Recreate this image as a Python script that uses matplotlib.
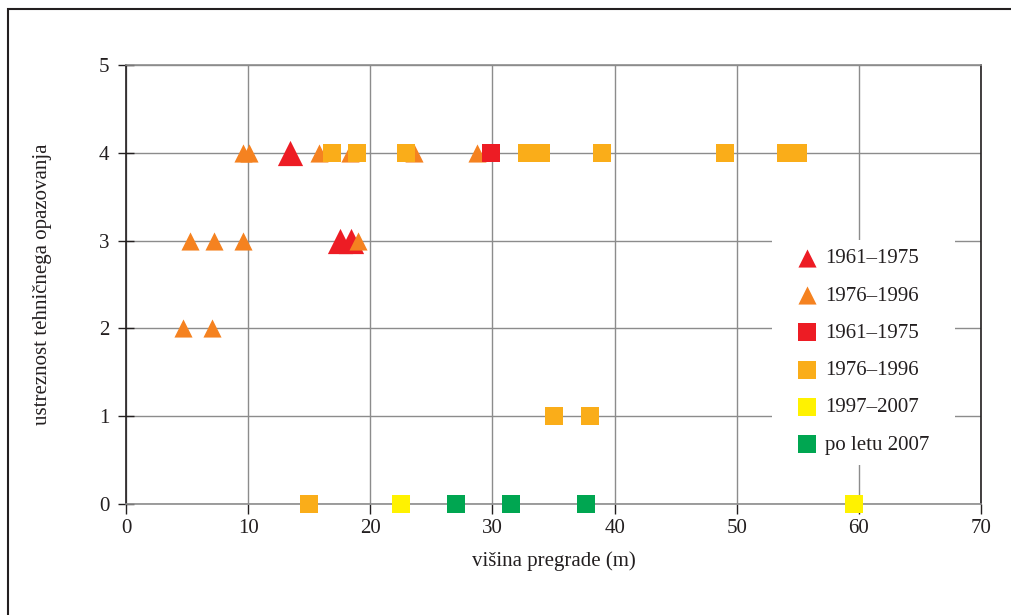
import matplotlib
matplotlib.use("Agg")
import matplotlib.pyplot as plt
from matplotlib.patches import Rectangle

plt.rcParams['font.family'] = ['Liberation Serif', 'DejaVu Serif']

# Data
tri_red_x = [13.4, 17.5, 18.4]
tri_red_y = [4, 3, 3]
tri_orange_x = [9.6, 10.1, 15.8, 18.3, 23.6, 28.7, 5.2, 7.2, 9.6, 19.0, 4.7, 7.0]
tri_orange_y = [4, 4, 4, 4, 4, 4, 3, 3, 3, 3, 2, 2]
sq_red_x = [29.9]
sq_red_y = [4]
sq_orange_x = [16.9, 18.9, 22.9, 32.8, 34.0, 39.0, 49.0, 54.0, 55.0, 35.0, 38.0, 15.0]
sq_orange_y = [4, 4, 4, 4, 4, 4, 4, 4, 4, 1, 1, 0]
sq_yellow_x = [22.5, 59.6]
sq_yellow_y = [0, 0]
sq_green_x = [27.0, 31.5, 37.7]
sq_green_y = [0, 0, 0]

labels = ['1961–1975', '1976–1996', '1961–1975', '1976–1996', '1997–2007', 'po letu 2007']
xticks = [0, 10, 20, 30, 40, 50, 60, 70]
yticks = [0, 1, 2, 3, 4, 5]

C_RED = '#ED1C24'
C_ORTRI = '#F58220'
C_ORSQ = '#FAAD19'
C_YEL = '#FFF200'
C_GRN = '#00A651'
TXT = '#231F20'
FS = 15

fig = plt.figure(figsize=(10.11, 6.15), dpi=100)
ax = fig.add_axes([126/1011, 1-504/615, (981-126)/1011, (504-65)/615])

ax.scatter(tri_red_x, tri_red_y, marker='^', s=330, color=C_RED, linewidths=0, label=labels[0], zorder=3, clip_on=False)
ax.scatter(tri_orange_x, tri_orange_y, marker='^', s=170, color=C_ORTRI, linewidths=0, label=labels[1], zorder=3, clip_on=False)
ax.scatter(sq_red_x, sq_red_y, marker='s', s=170, color=C_RED, linewidths=0, label=labels[2], zorder=3, clip_on=False)
ax.scatter(sq_orange_x, sq_orange_y, marker='s', s=170, color=C_ORSQ, linewidths=0, label=labels[3], zorder=3, clip_on=False)
ax.scatter(sq_yellow_x, sq_yellow_y, marker='s', s=170, color=C_YEL, linewidths=0, label=labels[4], zorder=3, clip_on=False)
ax.scatter(sq_green_x, sq_green_y, marker='s', s=170, color=C_GRN, linewidths=0, label=labels[5], zorder=3, clip_on=False)

ax.set_xlim(0, 70)
ax.set_ylim(0, 5)
ax.set_xticks(xticks)
ax.set_yticks(yticks)
ax.tick_params(axis='both', labelsize=FS, colors=TXT)
ax.tick_params(axis='x', direction='out', length=7, width=1)
ax.tick_params(axis='y', direction='inout', length=12, width=1, pad=6)
ax.grid(True, color='#8C8C8C', linewidth=1)
ax.set_axisbelow(True)
for s in ['left', 'right']:
    ax.spines[s].set_color(TXT)
    ax.spines[s].set_linewidth(1.2)
for s in ['top', 'bottom']:
    ax.spines[s].set_color('#8C8C8C')
    ax.spines[s].set_linewidth(1.2)

ax.set_xlabel('višina pregrade (m)', fontsize=FS, color=TXT, labelpad=10)
ax.set_ylabel('ustreznost tehničnega opazovanja', fontsize=FS, color=TXT, labelpad=34)

# white area behind legend (covers grid)
ax.add_patch(Rectangle((772/1011, 1-465/615), (955-772)/1011, (465-240)/615, transform=fig.transFigure,
                       facecolor='white', edgecolor='none', zorder=1.5))

leg = ax.legend(loc='upper left', bbox_to_anchor=(765/1011, 1-230/615), bbox_transform=fig.transFigure,
                fontsize=FS, frameon=False,
                labelspacing=0.85, handlelength=2.2, handletextpad=-0.2, borderpad=0.4,
                scatterpoints=1)
leg.set_zorder(5)
for h in leg.legend_handles:
    h.set_sizes([170])
for t in leg.get_texts():
    t.set_color(TXT)

fig.patches.append(Rectangle((8/1011, -0.1), 1.2, 1 - 9/615 + 0.1, transform=fig.transFigure,
                             fill=False, edgecolor=TXT, linewidth=1.5))

fig.savefig('out.png', dpi=100)
